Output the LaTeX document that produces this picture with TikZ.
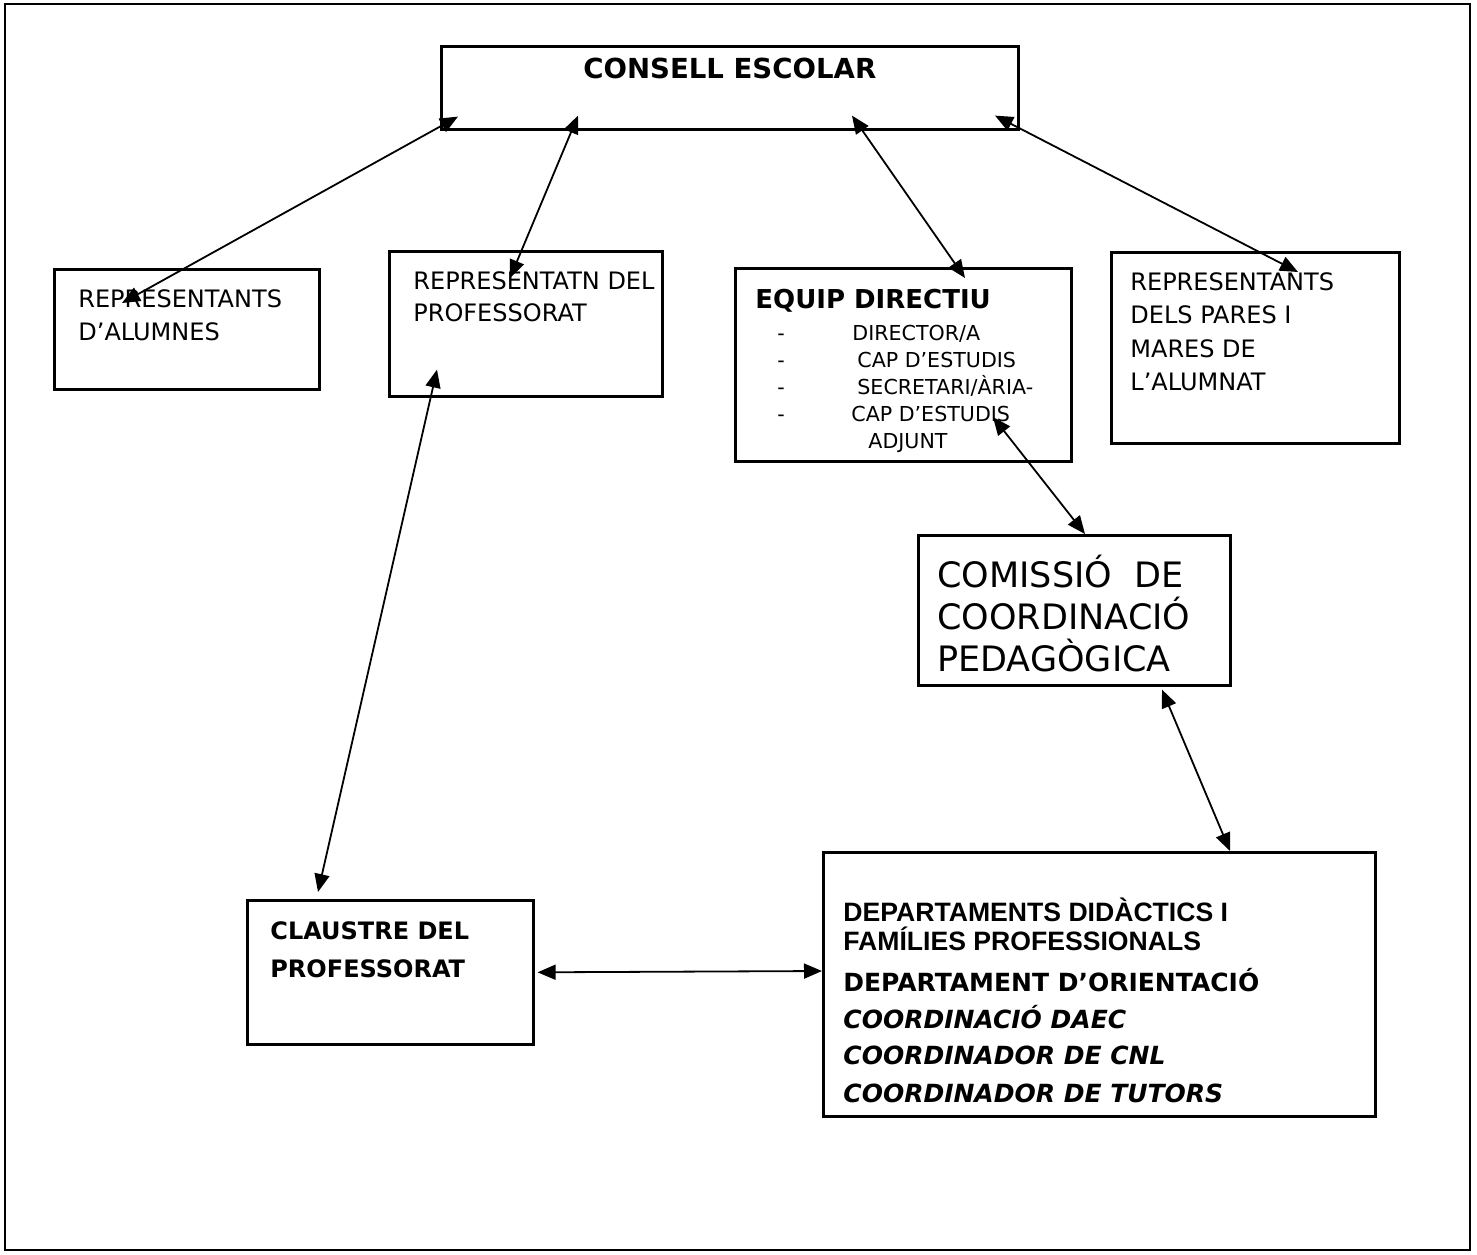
\documentclass[tikz,border=0pt]{standalone}
\usepackage{fontspec}
\setmainfont{DejaVu Sans}
\newfontfamily\arialfont{Liberation Sans}
\usetikzlibrary{arrows.meta}

\begin{document}
\begin{tikzpicture}[x=0.5pt, y=-0.5pt,
    caixa/.style 2 args={draw, line width=1.3pt, minimum width=#1*0.5pt,
        minimum height=#2*0.5pt, inner sep=0pt, anchor=north west},
    lletra/.style={anchor=north west, inner sep=0pt, align=left,
        font=\fontsize{12}{16.5}\selectfont},
    fletxa/.style={{Triangle[length=9pt,width=7.5pt]}-{Triangle[length=9pt,width=7.5pt]},
        line width=0.9pt}]
    \useasboundingbox (0,0) rectangle (1477,1254);

    % --- marc ---
    \draw[line width=1.4pt] (5,4) rectangle (1470,1250);

    % --- caixes ---
    \node[caixa={577}{83}]  (consell)   at (440,45)   {};
    \node[caixa={265}{120}] (alumnes)   at (53,268)   {};
    \node[caixa={273}{145}] (professor) at (388,250)  {};
    \node[caixa={336}{193}] (equip)     at (734,267)  {};
    \node[caixa={288}{191}] (pares)     at (1110,251) {};
    \node[caixa={312}{150}] (comissio)  at (917,534)  {};
    \node[caixa={286}{144}] (claustre)  at (246,899)  {};
    \node[caixa={552}{264}] (depts)     at (822,851)  {};

    % --- textos ---
    \node[lletra, anchor=north, font=\fontsize{13.8}{16}\selectfont\bfseries]
        (consell-t) at ([shift={(0,13)}]consell.north) {CONSELL ESCOLAR};
    \node[lletra] (alumnes-t) at ([shift={(25,21)}]alumnes.north west)
        {REPRESENTANTS\\D’ALUMNES};
    \node[lletra, font=\fontsize{12}{16}\selectfont] (professor-t)
        at ([shift={(25,21)}]professor.north west) {REPRESENTATN DEL\\PROFESSORAT};
    \node[lletra, font=\fontsize{10.3}{13.5}\selectfont] (equip-t)
        at ([shift={(21,22)}]equip.north west)
        {{\fontsize{13}{16}\selectfont\bfseries EQUIP DIRECTIU}\\[2.5pt]
         \hspace*{11pt}\makebox[37.5pt][l]{-}DIRECTOR/A\\
         \hspace*{11pt}\makebox[40pt][l]{-}CAP D’ESTUDIS\\
         \hspace*{11pt}\makebox[40pt][l]{-}SECRETARI/ÀRIA-\\
         \hspace*{11pt}\makebox[37pt][l]{-}CAP D’ESTUDIS\\
         \hspace*{56.5pt}ADJUNT};
    \node[lletra, font=\fontsize{12}{16.7}\selectfont] (pares-t)
        at ([shift={(20,21)}]pares.north west)
        {REPRESENTANTS\\DELS PARES I\\MARES DE\\L’ALUMNAT};
    \node[lletra, font=\fontsize{17.5}{21}\selectfont] (comissio-t)
        at ([shift={(20,21)}]comissio.north west)
        {COMISSIÓ\ \ DE\\COORDINACIÓ\\PEDAGÒGICA};
    \node[lletra, font=\fontsize{12}{19}\selectfont\bfseries] (claustre-t)
        at ([shift={(24,22)}]claustre.north west) {CLAUSTRE DEL\\PROFESSORAT};
    \node[lletra, font=\fontsize{12.5}{14.5}\selectfont\bfseries] (depts-t)
        at ([shift={(21,47)}]depts.north west)
        {{\arialfont\fontsize{13.3}{14.5}\selectfont DEPARTAMENTS DIDÀCTICS I}\\
         {\arialfont\fontsize{13.3}{14.5}\selectfont FAMÍLIES PROFESSIONALS}\\[6pt]
         DEPARTAMENT D’ORIENTACIÓ\\[4pt]
         {\itshape COORDINACIÓ DAEC}\\[3.5pt]
         {\itshape COORDINADOR DE CNL}\\[4.5pt]
         {\itshape COORDINADOR DE TUTORS}};

    % --- fletxes ---
    \draw[fletxa] ([shift={(18,-14)}]consell.south west) -- ([shift={(69,35)}]alumnes.north west);
    \draw[fletxa] ([shift={(138,-15)}]consell.south west) -- ([shift={(122,28)}]professor.north west);
    \draw[fletxa] ([shift={(412,-15)}]consell.south west) -- ([shift={(231,11)}]equip.north west);
    \draw[fletxa] ([shift={(555,-15)}]consell.south west) -- ([shift={(188,21)}]pares.north west);
    \draw[fletxa] ([shift={(49,-28)}]professor.south west) -- ([shift={(72,-7)}]claustre.north west);
    \draw[fletxa] ([shift={(259,150)}]equip.north west) -- ([shift={(168,0)}]comissio.north west);
    \draw[fletxa] ([shift={(245,3)}]comissio.south west) -- ([shift={(408,0)}]depts.north west);
    \draw[fletxa] ([shift={(3,0)}]claustre.east) -- ([shift={(0,120)}]depts.north west);
\end{tikzpicture}
\end{document}
